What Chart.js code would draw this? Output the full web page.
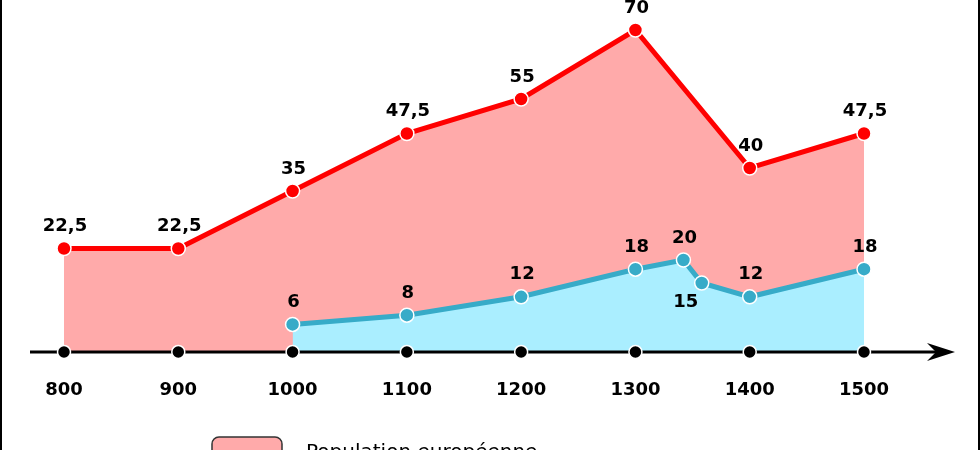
<!DOCTYPE html>
<html>
<head>
<meta charset="utf-8">
<script src="https://cdn.jsdelivr.net/npm/chart.js@4/dist/chart.umd.min.js"></script>
<style>
  body { margin: 0; background: #fff; }
  canvas { display: block; }
</style>
</head>
<body>
<canvas id="popChart" width="980" height="450"></canvas>
<script>
// --- DATA ---
const years = [800, 900, 1000, 1100, 1200, 1300, 1400, 1500];
const tickLabels = ['800', '900', '1000', '1100', '1200', '1300', '1400', '1500'];
const europePop = [22.5, 22.5, 35, 47.5, 55, 70, 40, 47.5];
const secondYears = [1000, 1100, 1200, 1300, 1342, 1358, 1400, 1500];
const secondPop = [6, 8, 12, 18, 20, 15, 12, 18];
const legendLabels = ['Population européenne'];

const LABEL_FONT = 'bold 18px "DejaVu Sans"';

function fmt(v) {
    return String(v).replace('.', ',');
}

// --- OVERLAY PLUGIN (axis arrow, value labels, ticks, legend) ---
const overlay = {
    id: 'overlay',
    beforeDatasetDraw(chart, args) {
        // axis line goes under the black dots (dataset 0 is drawn last)
        if (args.index !== 0) return;
        const ctx = chart.ctx;
        const xs = chart.scales.x, ys = chart.scales.y;
        const y0 = ys.getPixelForValue(0);
        const left = xs.getPixelForValue(years[0]) - 34;
        const tip = xs.getPixelForValue(years[years.length - 1]) + 91;
        ctx.save();
        ctx.strokeStyle = '#000';
        ctx.lineWidth = 3;
        ctx.beginPath();
        ctx.moveTo(left, y0);
        ctx.lineTo(tip - 14, y0);
        ctx.stroke();
        ctx.fillStyle = '#000';
        ctx.beginPath();
        ctx.moveTo(tip, y0);
        ctx.lineTo(tip - 28, y0 - 9);
        ctx.lineTo(tip - 19, y0);
        ctx.lineTo(tip - 28, y0 + 9);
        ctx.closePath();
        ctx.fill();
        ctx.restore();
    },
    afterDatasetsDraw(chart) {
        const ctx = chart.ctx;
        const xs = chart.scales.x;
        ctx.save();
        ctx.font = LABEL_FONT;
        ctx.fillStyle = '#000';
        ctx.textAlign = 'center';
        ctx.textBaseline = 'middle';

        // value labels for the two population series
        [1, 2].forEach(di => {
            const ds = chart.data.datasets[di];
            const below = ds.labelBelow || [];
            chart.getDatasetMeta(di).data.forEach((pt, i) => {
                const v = ds.data[i].y;
                if (below.includes(i)) {
                    ctx.fillText(fmt(v), pt.x - 16, pt.y + 19);
                } else {
                    ctx.fillText(fmt(v), pt.x + 1, pt.y - 22);
                }
            });
        });

        // x tick labels
        years.forEach((yr, i) => {
            ctx.fillText(tickLabels[i], xs.getPixelForValue(yr), 390);
        });

        // legend (cut off at the bottom edge)
        ctx.fillStyle = '#ffaaaa';
        ctx.strokeStyle = '#333';
        ctx.lineWidth = 1.5;
        ctx.beginPath();
        ctx.roundRect(212, 437, 70, 40, 7);
        ctx.fill();
        ctx.stroke();
        ctx.fillStyle = '#000';
        ctx.textAlign = 'left';
        ctx.textBaseline = 'alphabetic';
        ctx.font = '20px "DejaVu Sans"';
        ctx.fillText(legendLabels[0], 306, 458);

        // frame edges
        ctx.fillRect(0, 0, 2, 450);
        ctx.fillRect(978, 0, 2, 450);
        ctx.restore();
    }
};

// --- CHART ---
new Chart(document.getElementById('popChart'), {
    type: 'line',
    data: {
        datasets: [
            {
                label: 'axis',
                data: years.map(x => ({ x: x, y: 0 })),
                showLine: false,
                pointRadius: 6.5,
                pointBackgroundColor: '#000',
                pointBorderColor: '#fff',
                pointBorderWidth: 1.5,
                clip: false
            },
            {
                label: 'Série 2',
                data: secondYears.map((x, i) => ({ x: x, y: secondPop[i] })),
                borderColor: '#37abc8',
                borderWidth: 5,
                backgroundColor: '#aaeeff',
                fill: 'origin',
                tension: 0,
                pointRadius: 7,
                pointBackgroundColor: '#37abc8',
                pointBorderColor: '#fff',
                pointBorderWidth: 1.5,
                labelBelow: [5],
                clip: false
            },
            {
                label: legendLabels[0],
                data: years.map((x, i) => ({ x: x, y: europePop[i] })),
                borderColor: '#ff0000',
                borderWidth: 5,
                backgroundColor: '#ffaaaa',
                fill: 'origin',
                tension: 0,
                pointRadius: 7,
                pointBackgroundColor: '#ff0000',
                pointBorderColor: '#fff',
                pointBorderWidth: 1.5,
                clip: false
            }
        ]
    },
    options: {
        responsive: false,
        animation: false,
        layout: { padding: { left: 64, right: 116, top: 30, bottom: 98 } },
        scales: {
            x: { type: 'linear', min: 800, max: 1500, display: false },
            y: { min: 0, max: 70, display: false }
        },
        plugins: {
            legend: { display: false },
            tooltip: { enabled: false }
        }
    },
    plugins: [overlay]
});
</script>
</body>
</html>
